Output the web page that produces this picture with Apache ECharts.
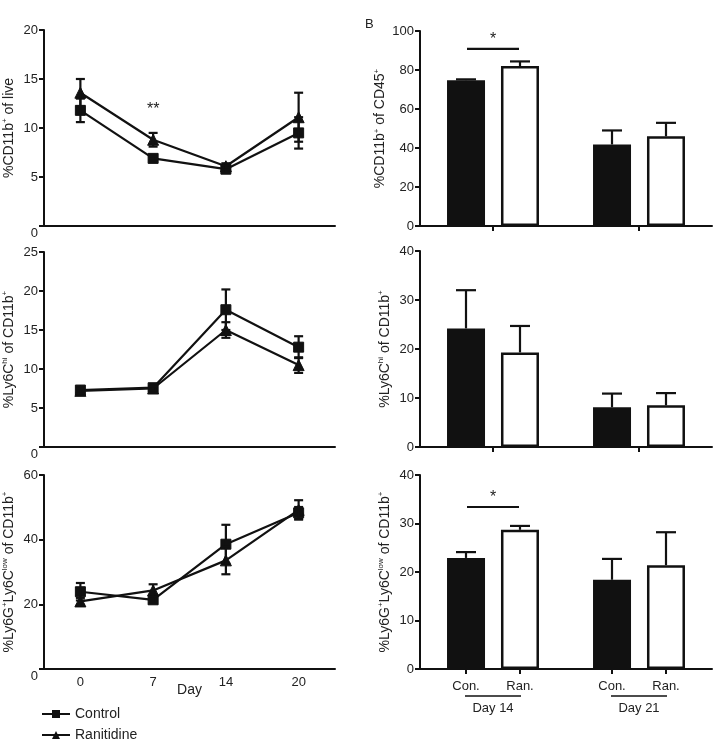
<!DOCTYPE html>
<html>
<head>
<meta charset="utf-8">
<script src="https://cdn.jsdelivr.net/npm/echarts@6/dist/echarts.min.js"></script>
<style>
html, body { margin: 0; padding: 0; background: #fff; }
#main { width: 721px; height: 741px; }
</style>
</head>
<body>
<div id="main"></div>
<script>
// A - time course (mean, sem)
var days = ['0', '7', '14', '20'];
var liveCon = [11.8, 6.9, 5.8, 9.5];
var liveConErr = [1.2, 0.2, 0.4, 1.6];
var liveRan = [13.6, 8.8, 6.1, 11.1];
var liveRanErr = [1.4, 0.7, 0.3, 2.5];
var hiCon = [7.3, 7.6, 17.6, 12.8];
var hiConErr = [0.4, 0.3, 2.6, 1.4];
var hiRan = [7.2, 7.5, 15.0, 10.5];
var hiRanErr = [0.3, 0.3, 1.0, 1.0];
var lowCon = [23.9, 21.4, 38.6, 48.3];
var lowConErr = [2.7, 1.0, 6.0, 1.8];
var lowRan = [20.9, 24.3, 33.6, 49.2];
var lowRanErr = [1.1, 1.9, 4.3, 3.0];

// B - bars (mean, sem)
var groups = ['Day 14', 'Day 21'];
var cd45Con = [74.8, 41.8];
var cd45ConErr = [0.4, 7.2];
var cd45Ran = [82.0, 46.0];
var cd45RanErr = [2.4, 6.9];
var barHiCon = [24.2, 8.1];
var barHiConErr = [7.8, 2.8];
var barHiRan = [19.3, 8.5];
var barHiRanErr = [5.4, 2.5];
var barLowCon = [22.9, 18.4];
var barLowConErr = [1.2, 4.3];
var barLowRan = [28.7, 21.4];
var barLowRanErr = [0.8, 6.8];

var ink = '#111';
var txt = '#222';
var font = '"Liberation Sans", Arial, Helvetica, sans-serif';
var barOff = 27; // px from group centre to each bar centre

var chart = echarts.init(document.getElementById('main'));

var grids = [
    { left: 41, top: 30, width: 294, height: 196 },
    { left: 41, top: 252, width: 294, height: 195 },
    { left: 41, top: 475, width: 294, height: 194 },
    { left: 420, top: 31, width: 292, height: 195 },
    { left: 420, top: 251, width: 292, height: 196 },
    { left: 420, top: 475, width: 292, height: 194 }
];

var nameStyle = {
    fontSize: 14, color: txt, fontFamily: font, lineHeight: 16,
    rich: { s: { fontSize: 8, lineHeight: 8, verticalAlign: 'top', color: txt, fontFamily: font } }
};

function yAx(gi, max, step, name, shiftZero) {
    return {
        type: 'value', gridIndex: gi, min: 0, max: max, interval: step,
        name: name, nameLocation: 'middle', nameGap: 27, nameTextStyle: nameStyle,
        axisLine: { show: true, lineStyle: { color: ink, width: 2 } },
        axisTick: { show: true, length: 5, lineStyle: { color: ink, width: 2 } },
        splitLine: { show: false },
        axisLabel: {
            color: txt, fontSize: 13, fontFamily: font, margin: 6,
            formatter: function (v) { return (shiftZero && v === 0) ? '{z|0}' : String(v); },
            rich: { z: { padding: [14, 0, 0, 0], fontSize: 13, color: txt, fontFamily: font } }
        }
    };
}

function xDays(gi, showLabel) {
    return {
        type: 'category', gridIndex: gi, data: days,
        name: showLabel ? 'Day' : '', nameLocation: 'middle', nameGap: 14, nameMoveOverlap: false,
        nameTextStyle: { fontSize: 14, color: txt, fontFamily: font },
        axisLine: { lineStyle: { color: ink, width: 2 } },
        axisTick: { alignWithLabel: true, length: 5, lineStyle: { color: ink, width: 2 } },
        axisLabel: { show: showLabel, color: txt, fontSize: 13, fontFamily: font, margin: 7 }
    };
}

function xGroups(gi, bottom) {
    return {
        type: 'category', gridIndex: gi, data: groups,
        axisLine: { lineStyle: { color: ink, width: 2 } },
        axisTick: { show: !bottom, alignWithLabel: true, length: 5, lineStyle: { color: ink, width: 2 } },
        axisLabel: {
            show: bottom, margin: 10,
            formatter: function (v) { return '{c|Con.}{c|Ran.}\n{u|}\n{d|' + v + '}'; },
            rich: {
                c: { width: 54, align: 'center', fontSize: 13, lineHeight: 14, color: txt, fontFamily: font },
                u: { width: 56, height: 1.5, lineHeight: 6, backgroundColor: ink },
                d: { fontSize: 13, lineHeight: 19, color: txt, fontFamily: font }
            }
        }
    };
}

function lineSeries(name, sym, size, xi, vals) {
    return {
        type: 'line', name: name, xAxisIndex: xi, yAxisIndex: xi, data: vals,
        symbol: sym, symbolSize: size, z: 4,
        lineStyle: { color: ink, width: 2.2 },
        itemStyle: { color: ink, borderColor: ink },
        emphasis: { disabled: true }
    };
}

function errSeries(xi, vals, errs, off, cap, upOnly) {
    return {
        type: 'custom', xAxisIndex: xi, yAxisIndex: xi, z: 5, silent: true,
        encode: { x: 0, y: [1, 2] },
        data: vals.map(function (v, i) { return [i, upOnly ? v : v - errs[i], v + errs[i]]; }),
        renderItem: function (params, api) {
            var lo = api.coord([api.value(0), api.value(1)]);
            var hi = api.coord([api.value(0), api.value(2)]);
            var x = lo[0] + off;
            var st = { stroke: ink, lineWidth: 2.2 };
            var kids = [
                { type: 'line', shape: { x1: x, y1: lo[1], x2: x, y2: hi[1] }, style: st },
                { type: 'line', shape: { x1: x - cap, y1: hi[1], x2: x + cap, y2: hi[1] }, style: st }
            ];
            if (!upOnly) {
                kids.push({ type: 'line', shape: { x1: x - cap, y1: lo[1], x2: x + cap, y2: lo[1] }, style: st });
            }
            return { type: 'group', children: kids };
        }
    };
}

function barSeries(name, xi, vals, fill) {
    return {
        type: 'bar', name: name, xAxisIndex: xi, yAxisIndex: xi, data: vals,
        barWidth: 38, barGap: '42%', z: 3,
        itemStyle: { color: fill, borderColor: ink, borderWidth: fill === '#fff' ? 2.5 : 0 },
        emphasis: { disabled: true }
    };
}

// significance mark: a bar between two columns (or none) with stars above
function sigSeries(xi, cat, val, stars, half) {
    return {
        type: 'custom', xAxisIndex: xi, yAxisIndex: xi, z: 6, silent: true,
        data: [[cat, val]],
        renderItem: function (params, api) {
            var p = api.coord([api.value(0), api.value(1)]);
            var kids = [{
                type: 'text',
                style: { text: stars, x: p[0], y: p[1] + (half ? -1 : 8), align: 'center', verticalAlign: 'bottom',
                    font: '16px ' + font, fill: txt }
            }];
            if (half) {
                kids.push({ type: 'line', shape: { x1: p[0] - half, y1: p[1], x2: p[0] + half, y2: p[1] },
                    style: { stroke: ink, lineWidth: 2.2 } });
            }
            return { type: 'group', children: kids };
        }
    };
}

var xAxes = [
    xDays(0, false), xDays(1, false), xDays(2, true),
    xGroups(3, false), xGroups(4, false), xGroups(5, true),
    {
        // ticks under each bar in the last panel
        type: 'value', gridIndex: 5, min: 0, max: 2, position: 'bottom',
        axisLine: { show: false }, splitLine: { show: false }, axisLabel: { show: false },
        axisTick: { show: true, length: 5, customValues: [0.315, 0.685, 1.315, 1.685], lineStyle: { color: ink, width: 2 } }
    }
];

var yAxes = [
    yAx(0, 20, 5, '%CD11b{s|+} of live', true),
    yAx(1, 25, 5, '%Ly6C{s|hi} of CD11b{s|+}', true),
    yAx(2, 60, 20, '%Ly6G{s|+}Ly6C{s|low} of CD11b{s|+}', true),
    yAx(3, 100, 20, '%CD11b{s|+} of CD45{s|+}', false),
    yAx(4, 40, 10, '%Ly6C{s|hi} of CD11b{s|+}', false),
    yAx(5, 40, 10, '%Ly6G{s|+}Ly6C{s|low} of CD11b{s|+}', false)
];

var series = [
    lineSeries('Control', 'rect', 10, 0, liveCon),
    lineSeries('Ranitidine', 'triangle', 11, 0, liveRan),
    errSeries(0, liveCon, liveConErr, 0, 4.5, false),
    errSeries(0, liveRan, liveRanErr, 0, 4.5, false),
    sigSeries(0, 1, 11.9, '**', 0),

    lineSeries('Control', 'rect', 10, 1, hiCon),
    lineSeries('Ranitidine', 'triangle', 11, 1, hiRan),
    errSeries(1, hiCon, hiConErr, 0, 4.5, false),
    errSeries(1, hiRan, hiRanErr, 0, 4.5, false),

    lineSeries('Control', 'rect', 10, 2, lowCon),
    lineSeries('Ranitidine', 'triangle', 11, 2, lowRan),
    errSeries(2, lowCon, lowConErr, 0, 4.5, false),
    errSeries(2, lowRan, lowRanErr, 0, 4.5, false),

    barSeries('Con.', 3, cd45Con, ink),
    barSeries('Ran.', 3, cd45Ran, '#fff'),
    errSeries(3, cd45Con, cd45ConErr, -barOff, 10, true),
    errSeries(3, cd45Ran, cd45RanErr, barOff, 10, true),
    sigSeries(3, 0, 90.8, '*', 26),

    barSeries('Con.', 4, barHiCon, ink),
    barSeries('Ran.', 4, barHiRan, '#fff'),
    errSeries(4, barHiCon, barHiConErr, -barOff, 10, true),
    errSeries(4, barHiRan, barHiRanErr, barOff, 10, true),

    barSeries('Con.', 5, barLowCon, ink),
    barSeries('Ran.', 5, barLowRan, '#fff'),
    errSeries(5, barLowCon, barLowConErr, -barOff, 10, true),
    errSeries(5, barLowRan, barLowRanErr, barOff, 10, true),
    sigSeries(5, 0, 33.4, '*', 26)
];

var legendBase = {
    left: 41, padding: 0, itemWidth: 28, itemHeight: 10, itemGap: 0,
    textStyle: { fontSize: 14, color: txt, fontFamily: font }
};

chart.setOption({
    backgroundColor: '#fff',
    animation: false,
    textStyle: { fontFamily: font },
    title: { text: 'B', left: 360, top: 13, textStyle: { fontSize: 13, fontWeight: 'normal', color: txt, fontFamily: font } },
    legend: [
        Object.assign({}, legendBase, { data: ['Control'], top: 707 }),
        Object.assign({}, legendBase, { data: ['Ranitidine'], top: 728 })
    ],
    grid: grids,
    xAxis: xAxes,
    yAxis: yAxes,
    series: series
});
</script>
</body>
</html>
